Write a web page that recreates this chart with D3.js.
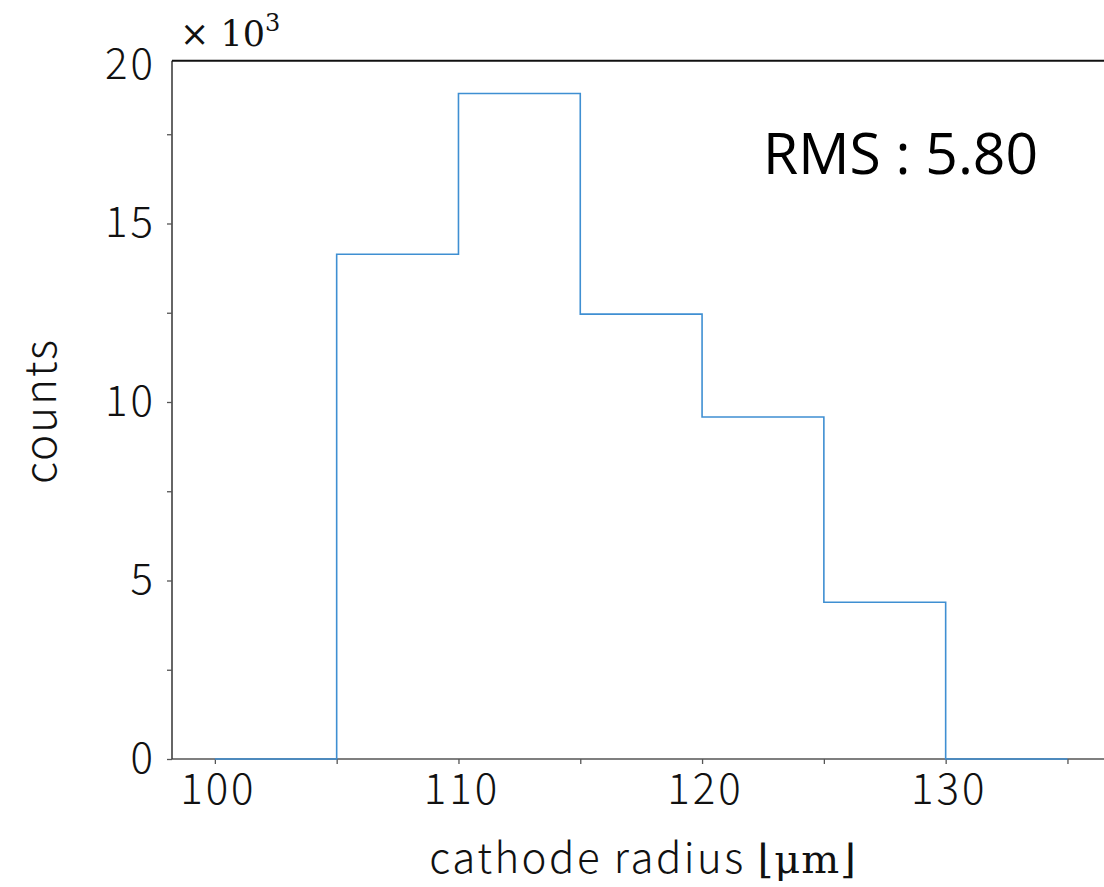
<!DOCTYPE html>
<html>
<head>
<meta charset="utf-8">
<script src="https://cdn.jsdelivr.net/npm/d3@7"></script>
<style>
  body { margin: 0; background: #fff; }
  svg { display: block; }
</style>
</head>
<body>
<script>
// histogram bins (cathode radius, um) and counts
var binEdges = [100, 105, 110, 115, 120, 125, 130, 135];
var counts = [0, 14140, 18640, 12460, 9580, 4390, 0];
var xTicks = [100, 105, 110, 115, 120, 125, 130, 135];
var xLabels = [100, 110, 120, 130];
var yTicks = [0, 5, 10, 15];
var yMinor = [2.5, 7.5, 12.5, 17.5];
var rmsText = "RMS : 5.80";

var width = 1104, height = 887;
var plotLeft = 172, plotBottom = 759, plotTop = 60.7;

var svg = d3.select("body").append("svg")
    .attr("width", width)
    .attr("height", height);

var x = d3.scaleLinear().domain([98.24, 136.5]).range([plotLeft, width]);
var y = d3.scaleLinear().domain([0, 19.56]).range([plotBottom, plotTop]);

var tickFont = "'Noto Sans CJK JP', 'Noto Sans', sans-serif";

// histogram outline as a step line
var pts = [[binEdges[0], 0]];
counts.forEach(function(c, i) {
    pts.push([binEdges[i], c / 1000]);
    pts.push([binEdges[i + 1], c / 1000]);
});
pts.push([binEdges[binEdges.length - 1], 0]);

var line = d3.line()
    .x(function(d) { return x(d[0]); })
    .y(function(d) { return y(d[1]); });

// x axis
var xAxis = svg.append("g")
    .attr("transform", "translate(0," + plotBottom + ")")
    .call(d3.axisBottom(x).tickValues(xTicks).tickSize(5)
        .tickFormat(function(d) { return xLabels.indexOf(d) >= 0 ? d : ""; }));
xAxis.select(".domain").attr("stroke", "#555").attr("stroke-width", 1.5)
    .attr("d", "M" + plotLeft + ",0H" + width);
xAxis.selectAll(".tick line").attr("stroke", "#555").attr("stroke-width", 1.3);
xAxis.selectAll(".tick text")
    .attr("x", 3)
    .attr("y", 15)
    .attr("dy", "0.71em")
    .style("font-family", tickFont)
    .style("font-weight", 300)
    .style("font-size", "42px")
    .style("letter-spacing", "3px")
    .attr("fill", "#111");

// y axis
var yAxis = svg.append("g")
    .attr("transform", "translate(" + plotLeft + ",0)")
    .call(d3.axisLeft(y).tickValues(yTicks.concat(yMinor)).tickSize(5)
        .tickFormat(function(d) { return yTicks.indexOf(d) >= 0 ? d : ""; }));
yAxis.select(".domain").attr("stroke", "#333").attr("stroke-width", 1.5)
    .attr("d", "M0," + plotBottom + "V" + plotTop);
yAxis.selectAll(".tick line").attr("stroke", "#555").attr("stroke-width", 1.3);
yAxis.selectAll(".tick text")
    .attr("x", -16)
    .style("font-family", tickFont)
    .style("font-weight", 300)
    .style("font-size", "42px")
    .style("letter-spacing", "3px")
    .attr("fill", "#111");

// "20" label sits at the top edge of the frame
svg.append("text")
    .attr("x", plotLeft - 16)
    .attr("y", plotTop + 5)
    .attr("dy", "0.32em")
    .attr("text-anchor", "end")
    .style("font-family", tickFont)
    .style("font-weight", 300)
    .style("font-size", "42px")
    .style("letter-spacing", "3px")
    .attr("fill", "#111")
    .text("20");

// top frame
svg.append("line")
    .attr("x1", plotLeft).attr("x2", width)
    .attr("y1", plotTop).attr("y2", plotTop)
    .attr("stroke", "#111").attr("stroke-width", 2);

svg.append("path")
    .datum(pts)
    .attr("d", line)
    .attr("fill", "none")
    .attr("stroke", "#3f8fd2")
    .attr("stroke-width", 1.6);

// multiplier
var mult = svg.append("text")
    .attr("x", 180)
    .attr("y", 46)
    .style("font-family", "'DejaVu Serif', 'Liberation Serif', serif")
    .style("font-size", "35px")
    .attr("fill", "#111");
mult.append("tspan").text("\u00d7 10");
mult.append("tspan").attr("dy", -15).style("font-size", "24px").text("3");

// axis titles
svg.append("text")
    .attr("transform", "translate(56,411) rotate(-90)")
    .attr("text-anchor", "middle")
    .style("font-family", tickFont)
    .style("font-weight", 300)
    .style("font-size", "44px")
    .style("letter-spacing", "2px")
    .attr("fill", "#111")
    .text("counts");

var xt = svg.append("text")
    .attr("x", 643)
    .attr("y", 873)
    .attr("text-anchor", "middle")
    .style("font-family", tickFont)
    .style("font-weight", 300)
    .style("font-size", "42px")
    .style("letter-spacing", "2.5px")
    .attr("fill", "#111");
xt.append("tspan").text("cathode radius ");
xt.append("tspan")
    .style("font-family", "'DejaVu Serif', 'Liberation Serif', serif")
    .style("font-weight", 400)
    .style("font-size", "40px")
    .style("letter-spacing", "1px")
    .text("\u230a\u03bcm\u230b");

// RMS annotation
svg.append("text")
    .attr("x", 763)
    .attr("y", 174)
    .style("font-family", "'Open Sans', 'Lato', sans-serif")
    .style("font-size", "57px")
    .attr("fill", "#000")
    .text(rmsText);
</script>
</body>
</html>
